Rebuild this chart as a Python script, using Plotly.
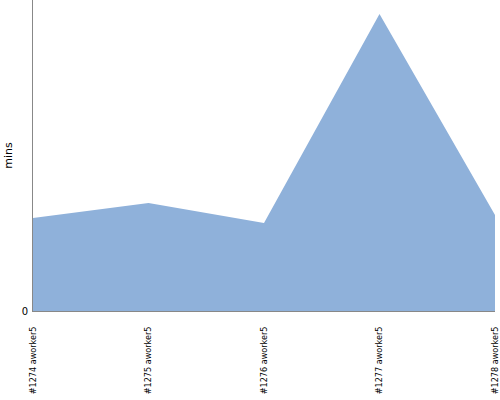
import plotly.graph_objects as go

builds = ["#1274 aworker5", "#1275 aworker5", "#1276 aworker5", "#1277 aworker5", "#1278 aworker5"]
mins = [93, 108, 88, 297, 96]

fig = go.Figure()
fig.add_trace(go.Scatter(
    x=builds, y=mins, mode="lines", fill="tozeroy",
    line=dict(width=0, color="#8fb1da"), fillcolor="#8fb1da",
    hoverinfo="skip",
))
fig.update_layout(
    width=500, height=400,
    margin=dict(l=33, r=5, t=0, b=89),
    plot_bgcolor="white", paper_bgcolor="white",
    showlegend=False,
    font=dict(family="Liberation Sans Narrow, DejaVu Sans Condensed, sans-serif", size=9, color="black"),
)
fig.update_xaxes(
    showgrid=False, zeroline=False, showline=True, linecolor="#888888", linewidth=1,
    tickangle=-90, range=[0, 4], ticks="outside", ticklen=11, tickcolor="white",
    tickfont=dict(size=9), automargin=False,
)
fig.update_yaxes(
    showgrid=False, zeroline=False, showline=True, linecolor="#888888", linewidth=1,
    range=[0, 311], tickvals=[0], ticktext=["0"], ticks="outside", ticklen=2, tickcolor="white",
    automargin=False,
    title=dict(text="mins", font=dict(family="DejaVu Sans, sans-serif", size=11), standoff=6),
    tickfont=dict(family="DejaVu Sans, sans-serif", size=10),
)
fig.write_html("out.html", config={"displayModeBar": False},
               post_script="document.body.style.margin='0';document.body.style.overflow='hidden';")
